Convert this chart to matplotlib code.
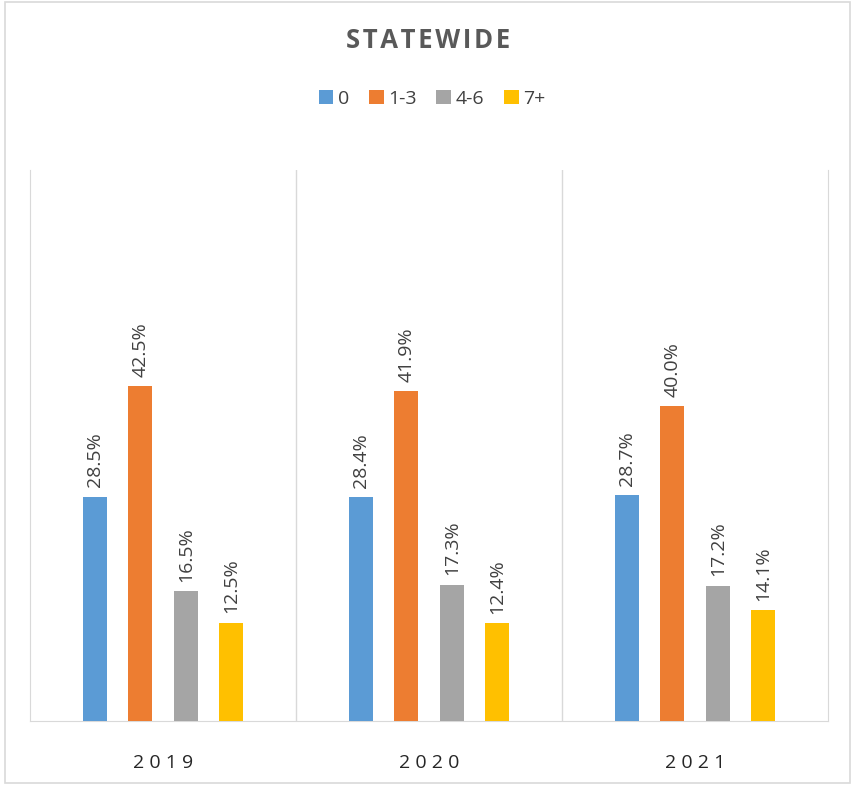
import numpy as np
import matplotlib.pyplot as plt
from matplotlib.patches import Rectangle

years = ["2019", "2020", "2021"]
series = ["0", "1-3", "4-6", "7+"]
values = {
    "0": [28.5, 28.4, 28.7],
    "1-3": [42.5, 41.9, 40.0],
    "4-6": [16.5, 17.3, 17.2],
    "7+": [12.5, 12.4, 14.1],
}
colors = ["#5B9BD5", "#ED7D31", "#A5A5A5", "#FFC000"]

plt.rcParams['font.family'] = ['Open Sans', 'DejaVu Sans']

fig = plt.figure(figsize=(8.56, 7.85), dpi=100)
ax = fig.add_axes([30 / 856, 64 / 785, 798 / 856, 551 / 785])

# light frame round the whole chart
fig.patches.append(Rectangle((5 / 856, 2 / 785), 845 / 856, 781 / 785,
                             transform=fig.transFigure, fill=False,
                             edgecolor="#D9D9D9", linewidth=1.2))

x = np.arange(len(years))
slot = 0.171
width = 0.09
for i, (name, c) in enumerate(zip(series, colors)):
    pos = x + (i - 1.5) * slot
    bars = ax.bar(pos, values[name], width=width, color=c, label=name, zorder=3)
    for b, v in zip(bars, values[name]):
        ax.text(b.get_x() + b.get_width() / 2, v + 1.2, f"{v:.1f}%",
                rotation=90, ha="center", va="bottom", fontsize=14,
                color="#404040")

ax.set_xlim(-0.5, 2.5)
ax.set_ylim(0, 70)
ax.set_yticks([])
ax.set_xticks(x)
ax.set_xticklabels([" ".join(y) for y in years], fontsize=14, color="#262626")
ax.tick_params(axis="x", length=0, pad=24)
for xb in [0.5, 1.5]:
    ax.axvline(xb, color="#D9D9D9", linewidth=1, zorder=1)
for side in ["left", "right", "bottom"]:
    ax.spines[side].set_color("#D9D9D9")
ax.spines["top"].set_visible(False)

fig.text(0.5, 1 - 40 / 785, "S T A T E W I D E".replace(" ", "\u200a"), ha="center",
         va="center", fontsize=18.5, fontweight="bold", color="#595959")

fig.legend(loc="center", bbox_to_anchor=(0.505, 1 - 99 / 785), ncol=4,
           frameon=False, fontsize=14, handlelength=0.75, handleheight=0.75,
           handletextpad=0.25, columnspacing=1.0, labelcolor="#404040")

fig.savefig("out.png", dpi=100)
